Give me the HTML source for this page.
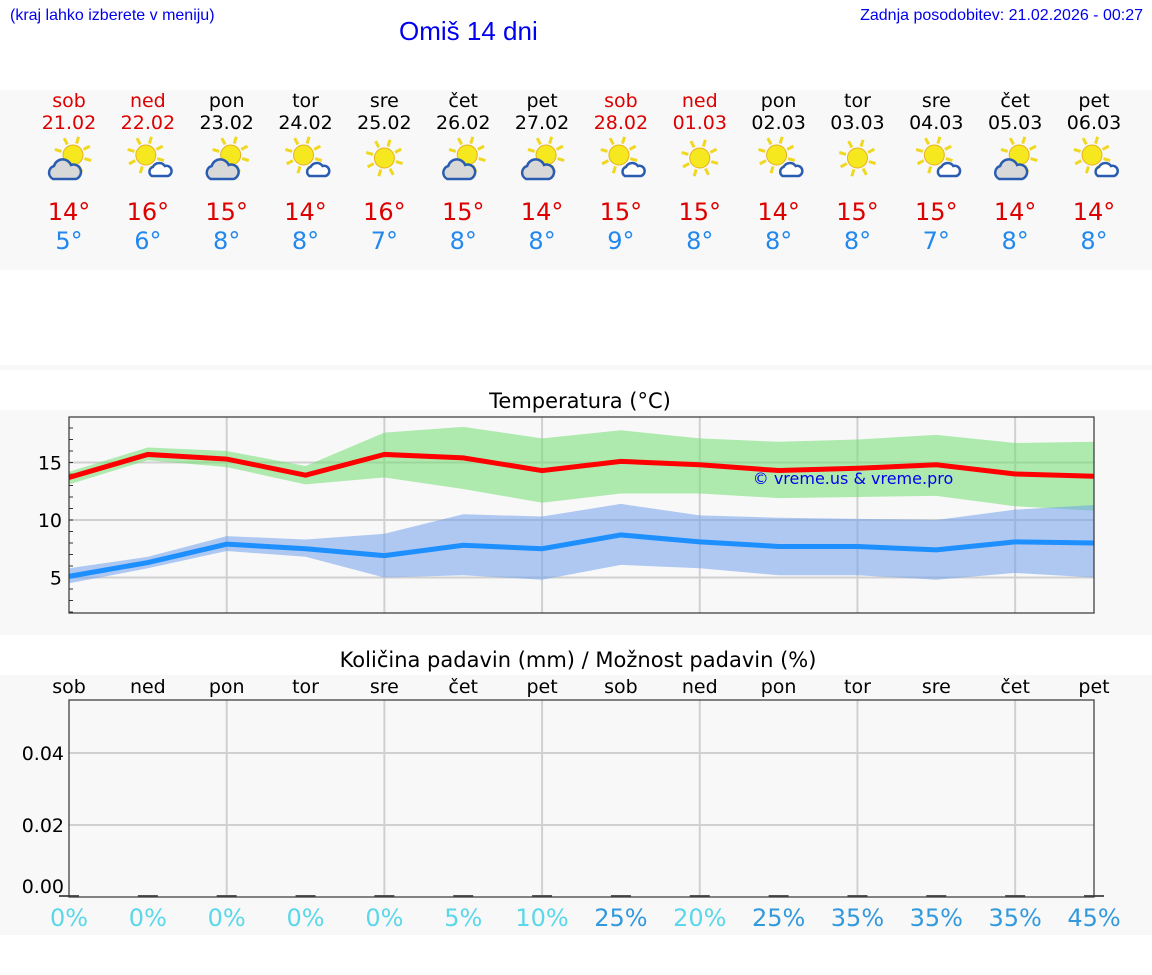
<!DOCTYPE html>
<html><head><meta charset="utf-8"><style>
body{margin:0;width:1152px;height:975px;background:#fff;position:relative;overflow:hidden;font-family:"DejaVu Sans",sans-serif}
.abs{position:absolute}
</style></head><body>
<div class="abs" style="left:10px;top:7px;font:16px 'Liberation Sans',sans-serif;color:#0000ee">(kraj lahko izberete v meniju)</div>
<div class="abs" style="left:399px;top:16px;font:26px 'Liberation Sans',sans-serif;color:#0000ee">Omiš 14 dni</div>
<div class="abs" style="right:9px;top:7px;font:16px 'Liberation Sans',sans-serif;color:#0000ee">Zadnja posodobitev: 21.02.2026 - 00:27</div>
<div class="abs" style="left:0;top:90px;width:1152px;height:180px;background:#f8f8f8"></div>
<div class="abs" style="left:0;top:365px;width:1152px;height:5px;background:#f8f8f8"></div>
<div class="abs" style="left:0;top:410px;width:1152px;height:225px;background:#f8f8f8"></div>
<div class="abs" style="left:0;top:675px;width:1152px;height:260px;background:#f8f8f8"></div>
<svg class="abs" style="left:0;top:0" width="1152" height="975" id="svg"></svg>
<script>
const days=["sob","ned","pon","tor","sre","čet","pet","sob","ned","pon","tor","sre","čet","pet"];
const dates=["21.02","22.02","23.02","24.02","25.02","26.02","27.02","28.02","01.03","02.03","03.03","04.03","05.03","06.03"];
const icons=["g","w","g","w","s","g","g","w","s","w","s","w","g","w"];
const tmax=[14,16,15,14,16,15,14,15,15,14,15,15,14,14];
const tmin=[5,6,8,8,7,8,8,9,8,8,8,7,8,8];
const maxLine=[13.7,15.7,15.3,13.9,15.7,15.4,14.3,15.1,14.8,14.3,14.5,14.8,14.0,13.8];
const maxHi=[14.2,16.3,16.0,14.7,17.6,18.1,17.1,17.8,17.1,16.8,17.0,17.4,16.7,16.8];
const maxLo=[13.1,15.2,14.6,13.1,13.7,12.7,11.5,12.3,12.3,11.9,12.0,12.1,11.2,10.8];
const minLine=[5.1,6.3,7.9,7.5,6.9,7.8,7.5,8.7,8.1,7.7,7.7,7.4,8.1,8.0];
const minHi=[5.8,6.8,8.6,8.3,8.8,10.5,10.3,11.4,10.4,10.2,10.1,10.0,10.9,11.3];
const minLo=[4.5,5.8,7.3,6.8,5.0,5.2,4.8,6.1,5.8,5.2,5.2,4.8,5.4,5.0];
const precip=[0,0,0,0,0,0,0,0,0,0,0,0,0,0];
const chance=[0,0,0,0,0,5,10,25,20,25,35,35,35,45];
const tempTicks=[5,10,15];
const precipTicks=[0,0.02,0.04];

const svg=document.getElementById('svg');const NS="http://www.w3.org/2000/svg";
function el(t,a,p){const e=document.createElementNS(NS,t);for(const k in a)e.setAttribute(k,a[k]);(p||svg).appendChild(e);return e;}
const X0=69,X1=1094;
const xs=i=>X0+i*(X1-X0)/(days.length-1);
const yT=v=>520-(v-10)*11.5;
const yP=v=>897-v*3600;
const red=i=>i==0||i==1||i==7||i==8;
days.forEach((d,i)=>{
 let t=el('text',{x:xs(i),y:107,'text-anchor':'middle','font-size':19,fill:red(i)?'#d00':'#000'});t.textContent=d;
 
 t=el('text',{x:xs(i),y:129,'text-anchor':'middle','font-size':19,fill:red(i)?'#d00':'#000'});t.textContent=dates[i];
 
 const g=el('g',{transform:`translate(${xs(i)},158)`});
 
 const sx=icons[i]=='s'?0:icons[i]=='g'?4:-2,sy=icons[i]=='s'?0:-3;
 for(let k=0;k<8;k++){const a=k*Math.PI/4+0.3;el('line',{x1:sx+Math.cos(a)*12,y1:sy+Math.sin(a)*12,x2:sx+Math.cos(a)*19,y2:sy+Math.sin(a)*19,stroke:'#f0d820','stroke-width':3},g);}
 el('circle',{cx:sx,cy:sy,r:10,fill:'#f6e81e',stroke:'#e8b020','stroke-width':1},g);
 if(icons[i]=='g'){el('path',{d:'M-16,21 a7,7 0 0 1 1,-13 a9,9 0 0 1 17,-1 a7,7 0 0 1 5,14 z',fill:'#d8d8d8',stroke:'#2a5cb0','stroke-width':2.5},g);}
 if(icons[i]=='w'){el('path',{d:'M4,18 a5,5 0 0 1 1,-9 a7,7 0 0 1 12,-1 a5,5 0 0 1 3,10 z',fill:'#fff',stroke:'#2a5cb0','stroke-width':2.5},g);}
 t=el('text',{x:xs(i),y:220,'text-anchor':'middle','font-size':24,fill:'#d00'});t.textContent=tmax[i]+'°';
 
 t=el('text',{x:xs(i),y:249,'text-anchor':'middle','font-size':24,fill:'#2288ee'});t.textContent=tmin[i]+'°';
 
});
let t=el('text',{x:580,y:408,'text-anchor':'middle','font-size':21});t.textContent='Temperatura (°C)';

el('rect',{x:X0,y:417,width:X1-X0,height:196,fill:'#f8f8f8'});
tempTicks.forEach(v=>{el('line',{x1:X0,x2:X1,y1:yT(v),y2:yT(v),stroke:'#d0d0d0','stroke-width':2});
 const l=el('text',{x:62,y:yT(v)+7,'text-anchor':'end','font-size':19});l.textContent=v;
 });
for(let v=2;v<=18;v++)el('line',{x1:X0,x2:X0+4,y1:yT(v),y2:yT(v),stroke:'#333'});
for(let i=2;i<days.length-1;i+=2)el('line',{x1:xs(i),x2:xs(i),y1:417,y2:613,stroke:'#d0d0d0','stroke-width':2});
function band(hi,lo,fill,name){let d='';hi.forEach((v,i)=>d+=(i?'L':'M')+xs(i)+','+yT(v));for(let i=lo.length-1;i>=0;i--)d+='L'+xs(i)+','+yT(lo[i]);
 const p=el('path',{d:d+'Z',fill:fill,opacity:.55});}
function line(a,c,name){const p=el('polyline',{points:a.map((v,i)=>xs(i)+','+yT(v)).join(' '),fill:'none',stroke:c,'stroke-width':5});}
band(maxHi,maxLo,'#71de71','max-temp-band');band(minHi,minLo,'#71a1ed','min-temp-band');
line(maxLine,'#ff0000','max-temp-line');line(minLine,'#1e8fff','min-temp-line');
t=el('text',{x:853,y:484,'text-anchor':'middle','font-size':16,fill:'#0000ee'});t.textContent='© vreme.us & vreme.pro';

el('rect',{x:X0,y:417,width:X1-X0,height:196,fill:'none',stroke:'#333','stroke-width':1.2});
t=el('text',{x:578,y:667,'text-anchor':'middle','font-size':21});t.textContent='Količina padavin (mm) / Možnost padavin (%)';

days.forEach((d,i)=>{const l=el('text',{x:xs(i),y:693,'text-anchor':'middle','font-size':19});l.textContent=d;
 });
precipTicks.forEach(v=>{if(v>0)el('line',{x1:X0,x2:X1,y1:yP(v),y2:yP(v),stroke:'#d0d0d0','stroke-width':2});
 const l=el('text',{x:64,y:yP(v)+(v==0?-4:7),'text-anchor':'end','font-size':19});l.textContent=v.toFixed(2);
 });
for(let i=2;i<days.length-1;i+=2)el('line',{x1:xs(i),x2:xs(i),y1:700,y2:897,stroke:'#d0d0d0','stroke-width':2});
precip.forEach((v,i)=>{const r=el('rect',{x:xs(i)-10,y:yP(v)-2,width:20,height:2+(yP(0)-yP(v)),fill:'#555'});
 });
el('rect',{x:X0,y:700,width:X1-X0,height:197,fill:'none',stroke:'#333','stroke-width':1.2});
chance.forEach((v,i)=>{const l=el('text',{x:xs(i),y:926,'text-anchor':'middle','font-size':24,fill:v>=25?'#3399dd':'#5ad8ea'});l.textContent=v+'%';
 });
</script>
</body></html>
